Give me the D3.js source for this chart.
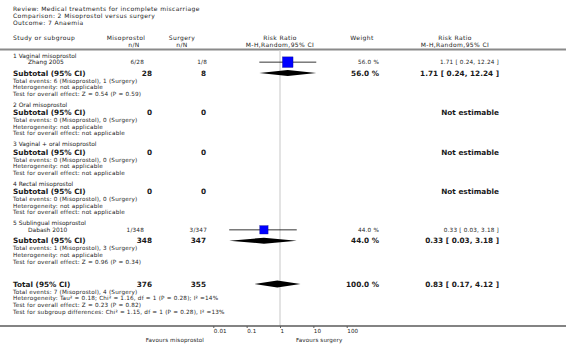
<!DOCTYPE html>
<html><head><meta charset="utf-8">
<script src="https://cdn.jsdelivr.net/npm/d3@7"></script>
<style>body{margin:0;background:#fff}svg{display:block}text{font-family:"DejaVu Sans",Verdana,sans-serif;fill:#1a1a1a}</style>
</head><body>
<script>
// ---- data ----
const headerLines = ["Review:  Medical treatments for incomplete miscarriage","Comparison:  2 Misoprostol versus surgery","Outcome:  7 Anaemia"];
const groupNames = ["1 Vaginal misoprostol","2 Oral misoprostol","3 Vaginal + oral misoprostol","4 Rectal misoprostol","5 Sublingual misoprostol"];
const studyNames = ["Zhang 2005","Dabash 2010"];
const studyGroup = [0,4];
const studyMisoEvents = [6,1];
const studyMisoN = [28,348];
const studySurgEvents = [1,3];
const studySurgN = [8,347];
const studyRR = [1.71,0.33];
const studyLo = [0.24,0.03];
const studyHi = [12.24,3.18];
const studyWeight = [56.0,44.0];
const subMisoN = [28,0,0,0,348];
const subSurgN = [8,0,0,0,347];
const subMisoEvents = [6,0,0,0,1];
const subSurgEvents = [1,0,0,0,3];
const subRR = [1.71,null,null,null,0.33];
const subLo = [0.24,null,null,null,0.03];
const subHi = [12.24,null,null,null,3.18];
const subWeight = [56.0,null,null,null,44.0];
const subHet = ["not applicable","not applicable","not applicable","not applicable","not applicable"];
const subTest = ["Z = 0.54 (P = 0.59)","not applicable","not applicable","not applicable","Z = 0.96 (P = 0.34)"];
const totalMisoN = 376, totalSurgN = 355, totalMisoEvents = 7, totalSurgEvents = 4;
const totalRR = 0.83, totalLo = 0.17, totalHi = 4.12, totalWeight = 100.0;
const totalHet = "Tau\u00B2 = 0.18; Chi\u00B2 = 1.16, df = 1 (P = 0.28); I\u00B2 =14%";
const totalTest = "Z = 0.23 (P = 0.82)";
const subgroupTest = "Chi\u00B2 = 1.15, df = 1 (P = 0.28), I\u00B2 =13%";
const tickValues = [0.01,0.1,1,10,100];
const tickLabels = ["0.01","0.1","1","10","100"];
const favourLeft = "Favours misoprostol", favourRight = "Favours surgery";

// ---- drawing ----
const W = 566, H = 344;
const svg = d3.select("body").append("svg").attr("width",W).attr("height",H);
const x = d3.scaleLog().domain([0.01,100]).range([213.3,346.7]);
const boxSize = d3.scaleLinear().domain([0,56]).range([0,10.5]);
const fmt2 = d3.format(".2f"), fmt1 = d3.format(".1f");
const ci = (r,l,h)=>`${fmt2(r)} [ ${fmt2(l)}, ${fmt2(h)} ]`;

// font styles fitted to the widths of reference strings (size capped, rest as letter-spacing)
const probe = svg.append("text").attr("opacity",0);
function fit(pairs, bold, cap){
  probe.attr("font-weight",bold?"bold":"normal").attr("letter-spacing",0).attr("font-size",10);
  const sz = Math.min(cap, d3.mean(pairs.map(([s,w])=>{ probe.text(s); return 10*w/probe.node().getComputedTextLength(); })));
  probe.attr("font-size",sz);
  const ls = d3.mean(pairs.map(([s,w])=>{ probe.text(s); return (w-probe.node().getComputedTextLength())/s.length; }));
  return {size:sz, ls:Math.max(0,ls), bold};
}
const SM = fit([["Total events: 6 (Misoprostol), 1 (Surgery)",117],["Test for overall effect: Z = 0.54 (P = 0.59)",134],["1.71 [ 0.24, 12.24 ]",60]],false,5.7);
const BD = fit([["Subtotal (95% CI)",74],["1.71 [ 0.24, 12.24 ]",80],["Not estimable",56]],true,7.3);
const HD = fit([["Study or subgroup",59],["Misoprostol",42.4],["Review:  Medical treatments for incomplete miscarriage",179]],false,6.0);
const GH = fit([["1 Vaginal misoprostol",69],["Zhang 2005",33]],false,6.0);
const TK = fit([["0.01",12],["Favours surgery",50]],false,5.6);
probe.remove();

const L = 13, IND = 28, MISO_S = 144, MISO_B = 152, SURG_S = 207, SURG_B = 206, WT = 379, CIR = 499;

function txt(s, xx, yy, st, anchor) {
  return svg.append("text").attr("x",xx).attr("y",yy).attr("dy","0.35em")
    .attr("font-size",st.size).attr("letter-spacing",st.ls).attr("font-weight",st.bold?"bold":"normal")
    .attr("text-anchor",anchor||"start").text(s);
}

headerLines.forEach((s,i)=>txt(s,L,9+i*7,HD));
txt("Study or subgroup",L,38,HD);
txt("Misoprostol",126,38,HD,"middle");
txt("n/N",134,45,HD,"middle");
txt("Surgery",182,38,HD,"middle");
txt("n/N",182,45,HD,"middle");
txt("Risk Ratio",x(1),38,HD,"middle");
txt("M-H,Random,95% CI",x(1),45,HD,"middle");
txt("Weight",362,38,HD,"middle");
txt("Risk Ratio",455,38,HD,"middle");
txt("M-H,Random,95% CI",455,45,HD,"middle");

svg.append("line").attr("x1",0).attr("x2",W).attr("y1",49.5).attr("y2",49.5).attr("stroke","#8a8a8a").attr("stroke-width",2);
// null line
svg.append("line").attr("x1",x(1)).attr("x2",x(1)).attr("y1",50.5).attr("y2",326).attr("stroke","#dcdcdc").attr("stroke-width",1.6);

function diamond(r,l,h,yy,hh){
  svg.append("path").attr("d",`M${x(l)},${yy}L${x(r)},${yy-hh}L${x(h)},${yy}L${x(r)},${yy+hh}Z`).attr("fill","#000");
}

const STEP = 6.65;
let y = 55.5;
groupNames.forEach((g,gi)=>{
  txt(g,L,y,GH);
  const idx = studyNames.map((_,i)=>i).filter(i=>studyGroup[i]===gi);
  idx.forEach((i,k)=>{
    const yy = y+STEP+k*9.7;
    txt(studyNames[i],IND,yy,GH);
    txt(`${studyMisoEvents[i]}/${studyMisoN[i]}`,MISO_S,yy,SM,"end");
    txt(`${studySurgEvents[i]}/${studySurgN[i]}`,SURG_S,yy,SM,"end");
    svg.append("line").attr("x1",x(studyLo[i])).attr("x2",x(studyHi[i])).attr("y1",yy).attr("y2",yy).attr("stroke","#000").attr("stroke-width",0.8);
    const s = boxSize(studyWeight[i]);
    svg.append("rect").attr("x",x(studyRR[i])-s/2).attr("y",yy-s/2).attr("width",s).attr("height",s).attr("fill","#0000ff").attr("stroke","#00008b").attr("stroke-width",0.4);
    txt(`${fmt1(studyWeight[i])} %`,WT,yy,SM,"end");
    txt(ci(studyRR[i],studyLo[i],studyHi[i]),CIR,yy,SM,"end");
  });
  const sy = y+7.8+idx.length*9.7;
  txt("Subtotal (95% CI)",L,sy,BD);
  txt(subMisoN[gi],MISO_B,sy,BD,"end");
  txt(subSurgN[gi],SURG_B,sy,BD,"end");
  if (subRR[gi]!==null){
    diamond(subRR[gi],subLo[gi],subHi[gi],sy,3);
    txt(`${fmt1(subWeight[gi])} %`,WT,sy,BD,"end");
    txt(ci(subRR[gi],subLo[gi],subHi[gi]),CIR,sy,BD,"end");
  } else {
    txt("Not estimable",CIR,sy,BD,"end");
  }
  txt(`Total events: ${subMisoEvents[gi]} (Misoprostol), ${subSurgEvents[gi]} (Surgery)`,L,sy+7.6,SM);
  txt(`Heterogeneity: ${subHet[gi]}`,L,sy+7.6+STEP,SM);
  txt(`Test for overall effect: ${subTest[gi]}`,L,sy+7.6+2*STEP,SM);
  y = sy+31.7;
});

const ty = 284;
txt("Total (95% CI)",L,ty,BD);
txt(totalMisoN,MISO_B,ty,BD,"end");
txt(totalSurgN,SURG_B,ty,BD,"end");
diamond(totalRR,totalLo,totalHi,ty,3.6);
txt(`${fmt1(totalWeight)} %`,WT,ty,BD,"end");
txt(ci(totalRR,totalLo,totalHi),CIR,ty,BD,"end");
txt(`Total events: ${totalMisoEvents} (Misoprostol), ${totalSurgEvents} (Surgery)`,L,ty+7.6,SM);
txt(`Heterogeneity: ${totalHet}`,L,ty+7.6+STEP,SM);
txt(`Test for overall effect: ${totalTest}`,L,ty+7.6+2*STEP,SM);
txt(`Test for subgroup differences: ${subgroupTest}`,L,ty+7.6+3*STEP,SM);

// axis
svg.append("line").attr("x1",0).attr("x2",W).attr("y1",326).attr("y2",326).attr("stroke","#5a5a5a").attr("stroke-width",1.6);
const ax = d3.axisBottom(x).tickValues(tickValues).tickFormat((d,i)=>tickLabels[i]).tickSize(2).tickSizeOuter(0);
const g = svg.append("g").attr("transform","translate(0,326)").call(ax);
g.select(".domain").remove();
g.selectAll(".tick line").attr("stroke","#5a5a5a");
g.selectAll(".tick text").attr("font-size",TK.size).attr("letter-spacing",TK.ls).attr("font-family","DejaVu Sans, sans-serif")
  .attr("fill","#1a1a1a").attr("text-anchor","start").attr("x",0).attr("y",3).attr("dy","0.71em");
txt(favourLeft,204,340,TK,"end");
txt(favourRight,296,340,TK);
</script>
</body></html>
